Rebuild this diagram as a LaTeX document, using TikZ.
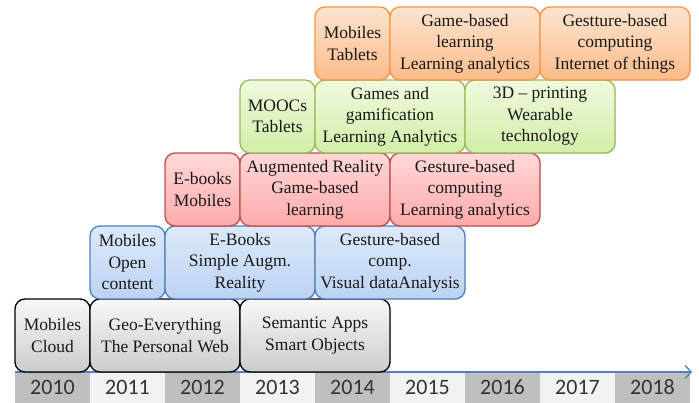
\documentclass[tikz,border=0pt]{standalone}
\usepackage{fontspec}
\setmainfont{Liberation Serif}
\newfontfamily\yearfont{Carlito}
\usetikzlibrary{positioning,arrows.meta,shadows}

\definecolor{yeardark}{HTML}{BFBFBF}
\definecolor{yearlight}{HTML}{F2F2F2}
\definecolor{axisblue}{HTML}{4F81BD}
\definecolor{greytop}{HTML}{F8F8F8}
\definecolor{greybot}{HTML}{CCCCCC}
\definecolor{bluetop}{HTML}{DDE9FA}
\definecolor{bluebot}{HTML}{BCD3F4}
\definecolor{blueline}{HTML}{4F81BD}
\definecolor{redtop}{HTML}{FFD8D8}
\definecolor{redbot}{HTML}{FFAAAA}
\definecolor{redline}{HTML}{C0504D}
\definecolor{greentop}{HTML}{F0FADF}
\definecolor{greenbot}{HTML}{D2EEA8}
\definecolor{greenline}{HTML}{9BBB59}
\definecolor{orangetop}{HTML}{FDE4CF}
\definecolor{orangebot}{HTML}{FBBC8A}
\definecolor{orangeline}{HTML}{F79646}

\begin{document}
\begin{tikzpicture}[
    x = 1pt, y = 1pt,
    > = {Straight Barb[length=6pt,width=13pt]}, % open arrow head of the time axis
    node distance = 0pt, % boxes touch each other
    font=\fontsize{17.5}{21.5}\selectfont,
    event/.style = {draw, rounded corners=10pt, line width=1.3pt, align=center,
        inner sep=2pt, outer sep=0pt, minimum height=73pt, text=black!90,
        drop shadow={opacity=0.2, shadow xshift=1pt, shadow yshift=-1pt}},
    one/.style = {minimum width=75pt},
    two/.style = {minimum width=150pt},
    greybox/.style = {event, draw=black, top color=greytop, bottom color=greybot},
    bluebox/.style = {event, draw=blueline, top color=bluetop, bottom color=bluebot},
    redbox/.style = {event, draw=redline, top color=redtop, bottom color=redbot},
    greenbox/.style = {event, draw=greenline, top color=greentop, bottom color=greenbot},
    orangebox/.style = {event, draw=orangeline, top color=orangetop, bottom color=orangebot},
    year/.style = {minimum width=75pt, minimum height=31pt, inner sep=0pt, outer sep=0pt,
        font=\yearfont\fontsize{22}{24}\selectfont, text=black!80},
    dark/.style = {fill=yeardark},
    light/.style = {fill=yearlight}
    ]
    \useasboundingbox (0,0) rectangle (699,403);

    % years
    \node[year, dark, anchor=south west] (y2010) at (15,0) {2010};
    \node[year, light] (y2011) [right=of y2010] {2011};
    \node[year, dark] (y2012) [right=of y2011] {2012};
    \node[year, light] (y2013) [right=of y2012] {2013};
    \node[year, dark] (y2014) [right=of y2013] {2014};
    \node[year, light] (y2015) [right=of y2014] {2015};
    \node[year, dark] (y2016) [right=of y2015] {2016};
    \node[year, light] (y2017) [right=of y2016] {2017};
    \node[year, dark] (y2018) [right=of y2017] {2018};

    \draw[->, axisblue, line width=1.3pt] (y2010.north west) -- ([xshift=2pt]y2018.north east);

    % 2010
    \node[greybox, one, anchor=south west] (bCloud) at (15,31) {Mobiles\\Cloud};
    \node[greybox, two] (bGeo) [right=of bCloud] {Geo-Everything\\The Personal Web};
    \node[greybox, two] (bSemantic) [right=of bGeo] {Semantic Apps\\Smart Objects};

    % 2011
    \node[bluebox, one, anchor=south west] (bOpen) at (90,104) {Mobiles\\Open\\content};
    \node[bluebox, two] (bEBooks) [right=of bOpen] {E-Books\\Simple Augm.\\Reality};
    \node[bluebox, two] (bVisual) [right=of bEBooks] {Gesture-based\\comp.\\Visual dataAnalysis};

    % 2012
    \node[redbox, one, anchor=south west] (bEbooks) at (165,177) {E-books\\Mobiles};
    \node[redbox, two] (bAugmented) [right=of bEbooks] {Augmented Reality\\Game-based\\learning};
    \node[redbox, two] (bGesture) [right=of bAugmented] {Gesture-based\\computing\\Learning analytics};

    % 2013
    \node[greenbox, one, anchor=south west] (bMoocs) at (240,250) {MOOCs\\Tablets};
    \node[greenbox, two] (bGames) [right=of bMoocs] {Games and\\gamification\\Learning Analytics};
    \node[greenbox, two] (bPrinting) [right=of bGames] {3D -- printing\\Wearable\\technology};

    % 2014
    \node[orangebox, one, anchor=south west] (bTablets) at (315,323) {Mobiles\\Tablets};
    \node[orangebox, two] (bGameBased) [right=of bTablets] {Game-based\\learning\\Learning analytics};
    \node[orangebox, two] (bThings) [right=of bGameBased] {Gestture-based\\computing\\Internet of things};
\end{tikzpicture}
\end{document}
